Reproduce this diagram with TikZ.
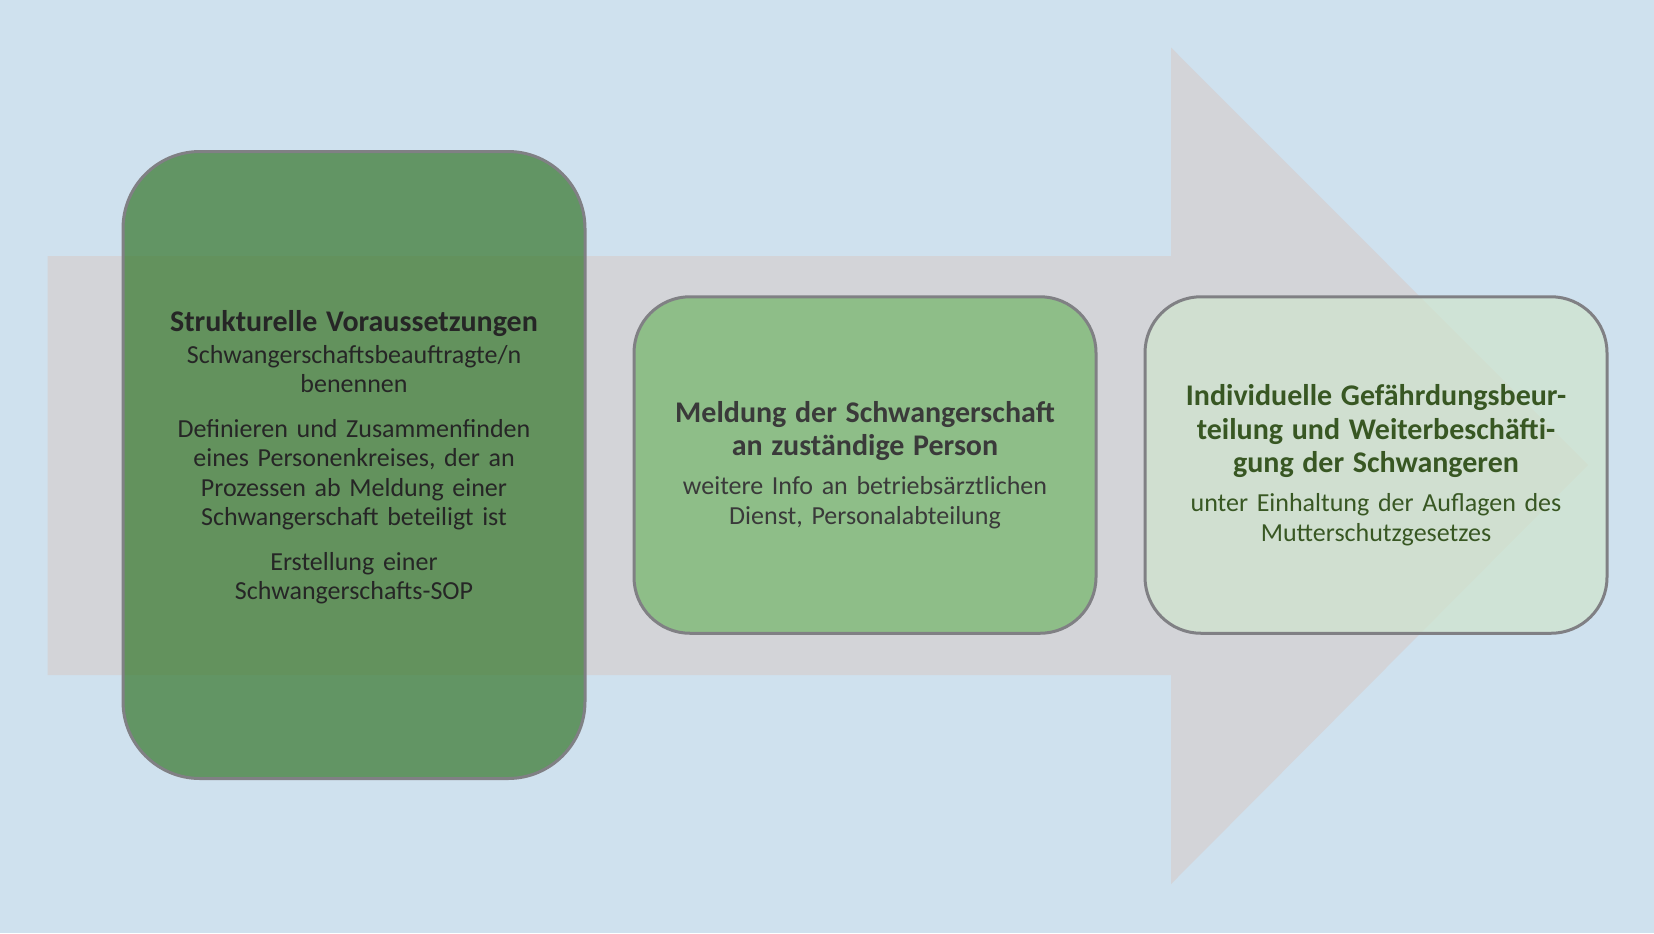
\documentclass[tikz,border=0pt]{standalone}
\usepackage{fontspec}
\setmainfont{Carlito}
\usepackage{xcolor}
\usepackage{tikz}
\usetikzlibrary{positioning}
\definecolor{SchBgBlue}{RGB}{207, 225, 238}
\definecolor{SchArrowGray}{RGB}{211, 212, 216}
\definecolor{SchBorder}{RGB}{128, 128, 132}
\definecolor{SchDarkGreen}{RGB}{52, 118, 42}
\definecolor{SchMidGreen}{RGB}{114, 182, 103}
\definecolor{SchLightGreen}{RGB}{208, 229, 205}
\definecolor{SchTextDark}{RGB}{38, 38, 38}
\definecolor{SchTextGray}{RGB}{58, 58, 58}
\definecolor{SchTextGreen}{RGB}{56, 87, 35}

\begin{document}
\begin{tikzpicture}[x=0.5pt, y=-0.5pt,
    phase/.style={draw=SchBorder, line width=1.5pt, fill opacity=0.7, text opacity=1,
          minimum width=231pt, minimum height=168.25pt, rounded corners=28pt,
          text width=215pt, align=center, inner sep=0pt,
          font=\fontsize{13}{14.75}\selectfont}]
    % background and big arrow
    \fill[SchBgBlue] (0,0) rectangle (1654,933);
    \useasboundingbox (0,0) rectangle (1654,933);
    \fill[SchArrowGray] (47.5,256) -- (1171,256) -- (1171,47.5) -- (1588,465)
          -- (1171,884) -- (1171,675) -- (47.5,675) -- cycle;

    % three phases
    \node[phase, fill=SchDarkGreen, text=SchTextDark, minimum height=313.5pt,
          rounded corners=38.5pt] (struktur) at (354,465) {
      {\fontsize{15}{16.9}\selectfont\bfseries Strukturelle Voraussetzungen}\\[1.25pt]
      Schwangerschaftsbeauftragte/n\\ benennen\\[7.5pt]
      Definieren und Zusammenfinden\\ eines Personenkreises, der an\\
      Prozessen ab Meldung einer\\ Schwangerschaft beteiligt ist\\[7.5pt]
      Erstellung einer\\ Schwangerschafts-SOP\par\vspace{8pt}
    };
    \node[phase, fill=SchMidGreen, text=SchTextGray, right=23pt of struktur] (meldung) {
      \fontsize{15}{16.9}\selectfont\bfseries Meldung der Schwangerschaft\\ an zuständige Person\\[4.75pt]
      \fontsize{13}{14.75}\selectfont\mdseries weitere Info an betriebsärztlichen\\ Dienst, Personalabteilung
    };
    \node[phase, fill=SchLightGreen, text=SchTextGreen, right=23pt of meldung] (beurteilung) {
      \fontsize{15}{16.9}\selectfont\bfseries Individuelle Gefährdungsbeur-\\ teilung und Weiterbeschäfti-\\
      gung der Schwangeren\\[4.75pt]
      \fontsize{13}{14.75}\selectfont\mdseries unter Einhaltung der Auflagen des\\ Mutterschutzgesetzes
    };
\end{tikzpicture}
\end{document}
